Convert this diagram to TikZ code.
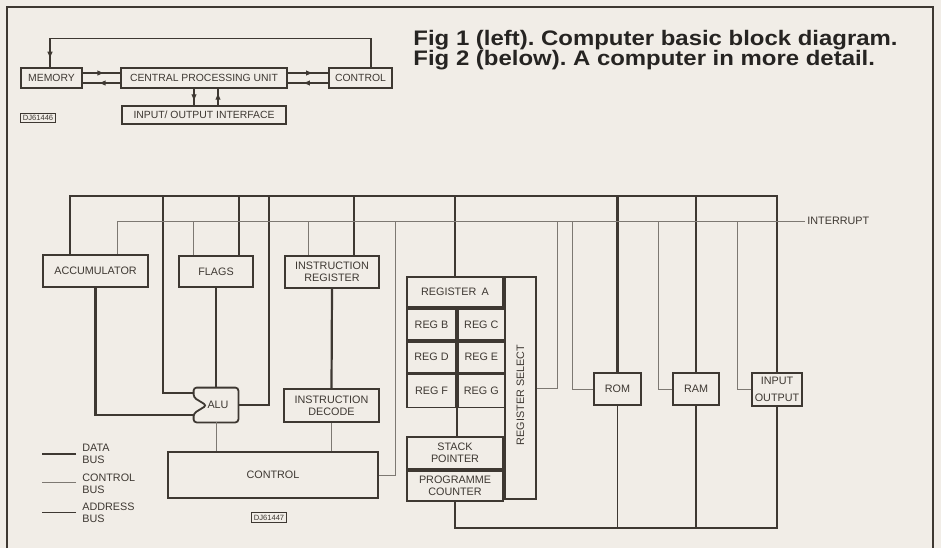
\documentclass[tikz,border=0pt]{standalone}
\usepackage{fontspec}
\setmainfont{Liberation Sans}
\usetikzlibrary{arrows.meta, decorations.markings}
\definecolor{paper}{RGB}{241,237,231}
\definecolor{ink}{RGB}{62,56,50}
\definecolor{thinink}{RGB}{125,120,114}
\definecolor{captionink}{RGB}{38,36,34}
\newcommand{\lblfont}{\fontsize{5.4}{6}\selectfont}
\newcommand{\smallfont}{\fontsize{5.2}{6}\selectfont}
\newcommand{\tagfont}{\fontsize{3.8}{4}\selectfont}
\newcommand{\capfont}{\fontsize{10.5}{10}\selectfont\bfseries}
\frenchspacing

\begin{document}
\begin{tikzpicture}[x=0.5pt, y=-0.5pt,
    box/.style={rectangle, draw=ink, line width=0.9pt, inner sep=0pt, font=\lblfont, text=ink, align=center},
    smallbox/.style={rectangle, draw=ink, line width=0.8pt, inner sep=0pt, font=\smallfont, text=ink},
    tagbox/.style={rectangle, draw=ink, line width=0.5pt, inner sep=1pt, font=\tagfont, text=ink},
    lbl/.style={font=\lblfont, text=ink, inner sep=1pt, align=left},
    caption/.style={anchor=base west, font=\capfont, text=captionink, inner sep=0pt, xscale=1.14},
    data/.style={draw=ink, line width=1.1pt},
    ctrl/.style={draw=thinink, line width=0.5pt},
    addr/.style={draw=ink, line width=0.8pt},
    flow/.style={draw=ink, line width=0.7pt},
    tipat/.style={postaction={decorate}, decoration={markings, mark=at position #1 with {\arrow{Triangle[length=3pt, width=2.4pt]}}}},
    pageframe/.style={draw=ink, line width=1.3pt}
]
    \useasboundingbox (0,0) rectangle (941,548);
    \fill[paper] (0,0) rectangle (941,548);
    \draw[pageframe] (7,548) |- (933,7) -- (933,548);

    % Fig 1: basic block diagram
    \node[smallbox, minimum width=30.5pt, minimum height=10pt] (mem) at (51.5,78) {MEMORY};
    \node[smallbox, minimum width=83pt, minimum height=10pt] (cpu) at (204,78) {CENTRAL PROCESSING UNIT};
    \node[smallbox, minimum width=31.5pt, minimum height=10pt] (ctl) at (360.5,78) {CONTROL};
    \node[smallbox, minimum width=82pt, minimum height=9pt] (iface) at (204,115) {INPUT/ OUTPUT INTERFACE};
    \node[tagbox] (tag1) at (38,118) {DJ61446};

    \draw[flow, tipat=0.55] ([yshift=2.5pt]mem.east) -- ([yshift=2.5pt]cpu.west);
    \draw[flow, tipat=0.55] ([yshift=-2.5pt]cpu.west) -- ([yshift=-2.5pt]mem.east);
    \draw[flow, tipat=0.6] ([yshift=2.5pt]cpu.east) -- ([yshift=2.5pt]ctl.west);
    \draw[flow, tipat=0.6] ([yshift=-2.5pt]ctl.west) -- ([yshift=-2.5pt]cpu.east);
    \draw[flow, tipat=0.7] ([xshift=-5pt]cpu.south) -- ([xshift=-5pt]iface.north);
    \draw[flow, tipat=0.7] ([xshift=7pt]iface.north) -- ([xshift=7pt]cpu.south);
    \draw[flow, tipat=0.975] ([xshift=5.25pt]ctl.north) -- ++(0,-29) -| ([xshift=-0.75pt]mem.north);

    % captions
    \node[caption] (cap1) at (413,45.5) {Fig 1 (left). Computer basic block diagram.};
    \node[caption] (cap2) at (413,65.5) {Fig 2 (below). A computer in more detail.};

    % Fig 2: processor blocks
    \node[box, minimum width=52.5pt, minimum height=16pt] (acc) at (95.5,271) {ACCUMULATOR};
    \node[box, minimum width=37pt, minimum height=15.5pt] (flags) at (216,271.5) {FLAGS};
    \node[box, minimum width=47pt, minimum height=16pt] (ir) at (332,272) {INSTRUCTION\\REGISTER};
    \node[box, minimum width=47.5pt, minimum height=16.5pt] (idec) at (331.5,405.5) {INSTRUCTION\\DECODE};
    \node[box, minimum width=105pt, minimum height=23pt] (ctrl2) at (273,475) {CONTROL};
    \node[minimum width=22pt, minimum height=17pt, inner sep=0pt, font=\lblfont, text=ink] (alu) at (216,405) {\kern2pt ALU};
    \draw[draw=ink, line width=0.9pt, rounded corners=1.5pt] (alu.north west) -- (alu.north east) -- (alu.south east) -- (alu.south west) -- ++(0,-9) -- ++(13,-8) -- ++(-13,-8) -- cycle;

    % register file
    \node[box, minimum width=48pt, minimum height=15pt] (regA) at (455,292) {REGISTER\enspace A};
    \node[box, minimum width=24.5pt, minimum height=15.5pt, anchor=north west] (regB) at (regA.south west) {REG B};
    \node[box, minimum width=23.5pt, minimum height=15.5pt, anchor=north west] (regC) at (regB.north east) {REG C};
    \node[box, minimum width=24.5pt, minimum height=15.5pt, anchor=north west] (regD) at (regB.south west) {REG D};
    \node[box, minimum width=23.5pt, minimum height=15.5pt, anchor=north west] (regE) at (regD.north east) {REG E};
    \node[box, minimum width=24.5pt, minimum height=16.5pt, anchor=north west] (regF) at (regD.south west) {REG F};
    \node[box, minimum width=23.5pt, minimum height=16.5pt, anchor=north west] (regG) at (regF.north east) {REG G};
    \node[box, minimum width=15.5pt, minimum height=111pt, anchor=north west] (regsel) at (regA.north east) {};
    \node[lbl, rotate=90] (regseltxt) at ([yshift=-3.5pt]regsel.center) {REGISTER SELECT};
    \node[box, minimum width=48pt, minimum height=16pt] (sp) at (455,453) {STACK\\POINTER};
    \node[box, minimum width=48pt, minimum height=15pt, anchor=north] (pc) at (sp.south) {PROGRAMME\\COUNTER};

    % memory and i/o
    \node[box, minimum width=23.5pt, minimum height=16pt] (rom) at (617.5,389) {ROM};
    \node[box, minimum width=23pt, minimum height=16pt] (ram) at (696,389) {RAM};
    \node[box, minimum width=25pt, minimum height=16.5pt] (inout) at (777,389.5) {INPUT\\[2.5pt]OUTPUT};
    \node[lbl, anchor=west] (intr) at (805,221) {INTERRUPT};

    % bus levels and junctions
    \coordinate (dbus) at (0,196);
    \coordinate (cbus) at (0,221);
    \coordinate (abus) at (0,528);
    \coordinate (acc-d) at ([xshift=-12.75pt]acc.north);
    \coordinate (acc-c) at ([xshift=10.75pt]acc.north);
    \coordinate (fl-c) at ([xshift=-11.5pt]flags.north);
    \coordinate (fl-d) at ([xshift=11.5pt]flags.north);
    \coordinate (ir-c) at ([xshift=-12pt]ir.north);
    \coordinate (ir-d) at ([xshift=11pt]ir.north);
    \coordinate (dj-aluin) at (163,196);
    \coordinate (dj-aluout) at (269,196);
    \coordinate (cj-ctl) at (395,221);
    \coordinate (cj-sel) at (557,221);
    \coordinate (cj-rom) at (572,221);
    \coordinate (cj-ram) at (658,221);
    \coordinate (cj-io) at (737,221);

    % data bus
    \draw[data] (acc-d) |- (inout.north |- dbus) -- (inout.north);
    \foreach \c in {fl-d, ir-d, regA.north, rom.north, ram.north}
        \draw[data] (\c) -- (\c |- dbus);
    \draw[data] ([yshift=6pt]alu.west) -| (dj-aluin);
    \draw[data] (acc.south) |- ([yshift=-5pt]alu.west);
    \draw[data] (alu.east) -| (dj-aluout);
    \draw[data] (flags.south) -- (alu.north);
    \draw[data] (ir.south) -- (idec.north);
    \draw[data] (regF.south east) -- (regF.south east |- sp.north);

    % control bus
    \draw[ctrl] (acc-c) |- (intr.west);
    \foreach \c in {fl-c, ir-c}
        \draw[ctrl] (\c) -- (\c |- cbus);
    \draw[ctrl] (ctrl2.east) -| (cj-ctl);
    \draw[ctrl] (regsel.east) -| (cj-sel);
    \draw[ctrl] (rom.west) -| (cj-rom);
    \draw[ctrl] (ram.west) -| (cj-ram);
    \draw[ctrl] (inout.west) -| (cj-io);
    \draw[ctrl] (alu.south) -- (alu.south |- ctrl2.north);
    \draw[ctrl] (idec.south) -- (idec.south |- ctrl2.north);

    % address bus
    \draw[addr] (pc.south) |- (inout.south |- abus) -- (inout.south);
    \foreach \c in {rom.south, ram.south}
        \draw[addr] (\c) -- (\c |- abus);

    % legend
    \node[lbl, anchor=west] (lg-data) at (80,454) {DATA\\BUS};
    \node[lbl, anchor=west] (lg-ctrl) at (80,484) {CONTROL\\BUS};
    \node[lbl, anchor=west] (lg-addr) at (80,512.5) {ADDRESS\\BUS};
    \draw[data] ([xshift=-2pt]lg-data.west) -- ++(-34,0);
    \draw[ctrl] ([xshift=-2pt,yshift=1pt]lg-ctrl.west) -- ++(-34,0);
    \draw[addr] ([xshift=-2pt]lg-addr.west) -- ++(-34,0);
    \node[tagbox] (tag2) at (269,517.5) {DJ61447};
\end{tikzpicture}
\end{document}
